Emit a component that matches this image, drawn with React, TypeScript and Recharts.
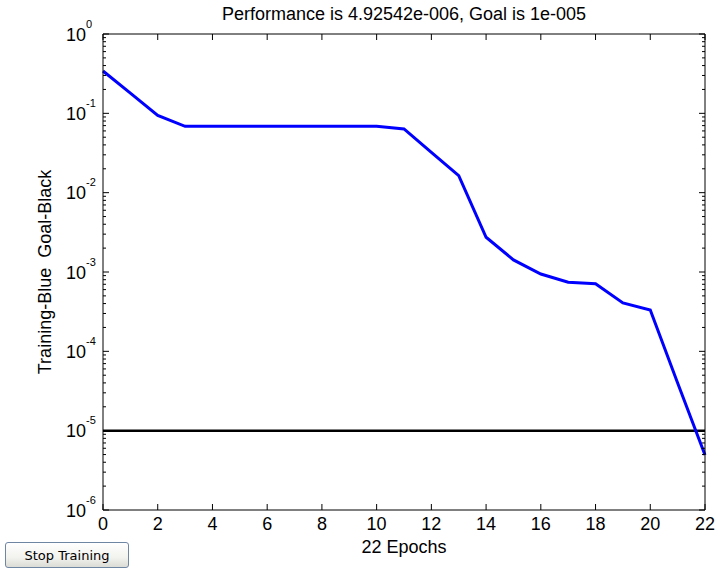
import React from 'react';
import { LineChart, Line, XAxis, YAxis } from 'recharts';

const epochs = [0, 1, 2, 3, 4, 5, 6, 7, 8, 9, 10, 11, 12, 13, 14, 15, 16, 17, 18, 19, 20, 21, 22];
const training = [0.342, 0.18, 0.0944, 0.0687, 0.0687, 0.0687, 0.0687, 0.0686, 0.0686, 0.0686, 0.0686, 0.0635, 0.0321, 0.01637, 0.00274, 0.00142, 0.000944, 0.000742, 0.000711, 0.000407, 0.000332, 0.00004, 0.00000492542];
const goalValue = 1e-5;
const xTicks = [0, 2, 4, 6, 8, 10, 12, 14, 16, 18, 20, 22];
const yMajor = [1, 1e-1, 1e-2, 1e-3, 1e-4, 1e-5, 1e-6];
const yMinorMult = [2, 3, 4, 5, 6, 7, 8, 9];
const titleText = 'Performance is 4.92542e-006, Goal is 1e-005';
const xLabel = '22 Epochs';
const yLabel = 'Training-Blue\u00A0 Goal-Black';

const yTicks: number[] = [];
yMajor.forEach((m) => {
  yTicks.push(m);
  if (m < 1) yMinorMult.forEach((k) => yTicks.push(m * k));
});

const data = epochs.map((e, i) => ({ epoch: e, perf: training[i], goal: goalValue }));

const FONT = '"Liberation Sans", Arial, Helvetica, sans-serif';
const FS = 18;

const isMajor = (v: number) => {
  const l = Math.log10(v);
  return Math.abs(l - Math.round(l)) < 1e-6;
};

const LeftTick = (props: any) => {
  const { x, y, payload } = props;
  const v = payload.value;
  const major = isMajor(v);
  const exp = Math.round(Math.log10(v));
  return (
    <g>
      <line x1={x} x2={x + (major ? 6 : 3)} y1={y} y2={y} stroke="#000" strokeWidth={1} />
      {major && (
        <text x={x - 37} y={y} textAnchor="start" fontSize={FS} fontFamily={FONT} fill="#000">
          <tspan dy={6.5}>10</tspan>
          <tspan dy={-13} fontSize={11}>{exp === 0 ? '0' : String(exp)}</tspan>
        </text>
      )}
    </g>
  );
};

const RightTick = (props: any) => {
  const { x, y, payload } = props;
  const major = isMajor(payload.value);
  return <line x1={x} x2={x - (major ? 6 : 3)} y1={y} y2={y} stroke="#000" strokeWidth={1} />;
};

const BottomTick = (props: any) => {
  const { x, y, payload } = props;
  return (
    <g>
      <line x1={x} x2={x} y1={y} y2={y - 6} stroke="#000" strokeWidth={1} />
      <text x={x} y={y + 20} textAnchor="middle" fontSize={FS} fontFamily={FONT} fill="#000">
        {payload.value}
      </text>
    </g>
  );
};

const TopTick = (props: any) => {
  const { x, y } = props;
  return <line x1={x} x2={x} y1={y} y2={y + 6} stroke="#000" strokeWidth={1} />;
};

export default function App() {
  return (
    <div style={{ position: 'absolute', left: 0, top: 0, width: 716, height: 570, background: '#fff' }}>
      <LineChart
        width={716}
        height={570}
        data={data}
        margin={{ top: 0, right: 10, bottom: 0, left: 0 }}
      >
        <XAxis
          xAxisId="b"
          dataKey="epoch"
          type="number"
          domain={[0, 22]}
          ticks={xTicks}
          interval={0}
          height={60}
          tickSize={0}
          tickMargin={0}
          tick={<BottomTick />}
          axisLine={{ stroke: '#000', strokeWidth: 1 }}
          label={{ value: xLabel, position: 'insideBottom', offset: 17, fontSize: FS, fontFamily: FONT, fill: '#000' }}
        />
        <XAxis
          xAxisId="t"
          orientation="top"
          dataKey="epoch"
          type="number"
          domain={[0, 22]}
          ticks={xTicks}
          interval={0}
          height={34}
          tickSize={0}
          tickMargin={0}
          tick={<TopTick />}
          axisLine={{ stroke: '#000', strokeWidth: 1 }}
          label={{ value: titleText, position: 'insideTop', offset: 7, fontSize: FS, fontFamily: FONT, fill: '#000' }}
        />
        <YAxis
          yAxisId="l"
          type="number"
          scale="log"
          domain={[1e-6, 1]}
          allowDataOverflow
          ticks={yTicks}
          interval={0}
          width={103}
          tickSize={0}
          tickMargin={0}
          tick={<LeftTick />}
          axisLine={{ stroke: '#000', strokeWidth: 1 }}
          label={{ value: yLabel, angle: -90, position: 'insideLeft', offset: 45, fontSize: FS, fontFamily: FONT, fill: '#000', style: { textAnchor: 'middle' } }}
        />
        <YAxis
          yAxisId="r"
          orientation="right"
          type="number"
          scale="log"
          domain={[1e-6, 1]}
          allowDataOverflow
          ticks={yTicks}
          interval={0}
          width={1}
          tickSize={0}
          tickMargin={0}
          tick={<RightTick />}
          axisLine={{ stroke: '#000', strokeWidth: 1 }}
        />
        <Line
          xAxisId="t"
          yAxisId="r"
          dataKey="goal"
          stroke="none"
          strokeWidth={0}
          dot={false}
          activeDot={false}
          legendType="none"
          isAnimationActive={false}
        />
        <Line
          xAxisId="b"
          yAxisId="l"
          dataKey="goal"
          stroke="#000"
          strokeWidth={2.5}
          dot={false}
          isAnimationActive={false}
        />
        <Line
          xAxisId="b"
          yAxisId="l"
          dataKey="perf"
          stroke="#0000ff"
          strokeWidth={3}
          dot={false}
          isAnimationActive={false}
        />
      </LineChart>
      <div
        style={{
          position: 'absolute',
          left: 5,
          top: 542,
          width: 124,
          height: 26,
          boxSizing: 'border-box',
          border: '1px solid #6f86a3',
          borderRadius: 3,
          background: 'linear-gradient(#ffffff, #f2f2ee 60%, #dcdcd6)',
          fontFamily: '"DejaVu Sans", sans-serif',
          fontSize: 13,
          color: '#000',
          display: 'flex',
          alignItems: 'center',
          justifyContent: 'center',
        }}
      >
        Stop Training
      </div>
    </div>
  );
}
